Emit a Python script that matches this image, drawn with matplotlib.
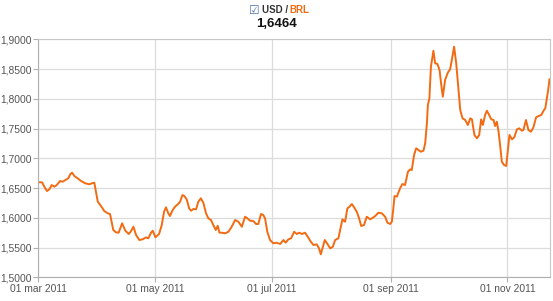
import numpy as np
import pandas as pd
import matplotlib
matplotlib.use("Agg")
import matplotlib.pyplot as plt
import matplotlib.dates as mdates
from matplotlib.ticker import FuncFormatter

plt.rcParams['font.family'] = ['Liberation Sans', 'DejaVu Sans']

# days after 01 mar 2011 and USD/BRL rate
days = [0, 2.1, 3.3, 4.7, 5.9, 7.2, 8.5, 9.8, 11.5, 12.9, 14.3, 15.8, 16.9, 17.8, 19.0,
        20.7, 22.5, 24.7, 26.8, 28.2, 29.4, 31.2, 32.9, 34.6, 36.4, 37.6, 39.3, 40.7,
        42.1, 43.9, 45.6, 47.4, 48.6, 49.8, 51.2, 52.9, 54.7, 56.4, 57.6, 59.0, 59.9,
        61.3, 63.2, 64.6, 65.8, 66.8, 68.0, 68.9, 70.1, 71.5, 73.0, 74.2, 75.4, 76.4,
        77.6, 78.9, 79.9, 81.1, 82.5, 83.7, 85.0, 86.3, 87.7, 88.9, 90.3, 91.5, 92.8,
        93.8, 94.7, 95.9, 97.7, 99.4, 101.1, 102.9, 104.6, 106.4, 108.1, 109.3, 110.7,
        112.4, 113.8, 115.0, 116.4, 117.6, 118.5, 119.7, 121.1, 122.3, 122.9, 124.6,
        126.4, 128.1, 129.3, 130.7, 132.1, 133.7, 135.1, 136.4, 137.7, 139.4, 140.8,
        142.4, 143.8, 145.5, 146.7, 147.6, 148.7, 149.7, 151.1, 152.5, 153.9, 155.1,
        156.8, 157.7, 158.9, 160.3, 161.5, 162.6, 163.8, 165.0, 166.4, 167.6, 168.7,
        170.2, 171.6, 173.4, 174.8, 176.0, 177.7, 179.5, 181.2, 182.4, 183.8, 184.7,
        185.4, 186.1, 187.3, 189.0, 190.2, 191.6, 193.1, 194.3, 195.1, 196.3, 197.4,
        198.6, 199.8, 201.2, 202.1, 203.0, 203.5, 204.3, 205.1, 206.4, 207.3, 208.5,
        209.6, 210.4, 211.3, 212.5, 213.9, 215.1, 216.0, 217.2, 218.3, 219.5, 220.4,
        221.6, 223.0, 224.4, 225.6, 226.5, 227.8, 229.1, 230.3, 231.3, 232.2, 233.4,
        234.3, 235.5, 236.6, 237.8, 238.6, 239.5, 240.4, 241.3, 242.1, 243.3, 244.4,
        245.3, 246.1, 247.4, 248.6, 250.0, 251.2, 252.6, 253.4, 254.7, 256.0, 257.3,
        258.6, 260.0, 261.3, 262.7, 263.9, 264.8, 265.6, 266.3, 267.0]
rates = [1.6597, 1.6597, 1.6523, 1.6450, 1.6479, 1.6551, 1.6523, 1.6551, 1.6618, 1.6607,
         1.6635, 1.6664, 1.6736, 1.6758, 1.6702, 1.6664, 1.6618, 1.6580, 1.6563, 1.6580,
         1.6590, 1.6271, 1.6198, 1.6114, 1.6076, 1.6064, 1.5795, 1.5756, 1.5750, 1.5907,
         1.5783, 1.5728, 1.5778, 1.5850, 1.5711, 1.5627, 1.5639, 1.5672, 1.5655, 1.5750,
         1.5783, 1.5672, 1.5728, 1.5879, 1.6102, 1.6176, 1.6076, 1.6030, 1.6119, 1.6186,
         1.6227, 1.6271, 1.6383, 1.6366, 1.6311, 1.6160, 1.6119, 1.6148, 1.6143, 1.6271,
         1.6328, 1.6254, 1.6076, 1.5992, 1.5963, 1.5879, 1.5795, 1.5867, 1.5750, 1.5750,
         1.5739, 1.5766, 1.5850, 1.5963, 1.5934, 1.5850, 1.6018, 1.5992, 1.5951, 1.5946,
         1.5896, 1.5896, 1.6064, 1.6047, 1.5992, 1.5766, 1.5627, 1.5588, 1.5571, 1.5582,
         1.5560, 1.5627, 1.5582, 1.5639, 1.5655, 1.5766, 1.5728, 1.5750, 1.5728, 1.5750,
         1.5682, 1.5598, 1.5543, 1.5554, 1.5487, 1.5386, 1.5514, 1.5627, 1.5560, 1.5487,
         1.5514, 1.5627, 1.5655, 1.5795, 1.5975, 1.5934, 1.6160, 1.6186, 1.6232, 1.6176,
         1.6102, 1.5992, 1.5862, 1.5879, 1.6018, 1.5975, 1.6002, 1.6030, 1.6086, 1.6075,
         1.6018, 1.5918, 1.5896, 1.5934, 1.6131, 1.6366, 1.6355, 1.6496, 1.6568, 1.6551,
         1.6775, 1.6815, 1.6803, 1.7055, 1.7168, 1.7140, 1.7111, 1.7128, 1.7252, 1.7588,
         1.7896, 1.8008, 1.8539, 1.8808, 1.8597, 1.8585, 1.8484, 1.8260, 1.8035, 1.8316,
         1.8439, 1.8496, 1.8652, 1.8876, 1.8597, 1.8148, 1.7812, 1.7672, 1.7644, 1.7560,
         1.7672, 1.7655, 1.7392, 1.7336, 1.7392, 1.7655, 1.7560, 1.7728, 1.7800, 1.7728,
         1.7655, 1.7644, 1.7543, 1.7615, 1.7447, 1.7195, 1.6943, 1.6887, 1.6871, 1.7139,
         1.7392, 1.7319, 1.7353, 1.7487, 1.7504, 1.7464, 1.7476, 1.7644, 1.7476, 1.7447,
         1.7521, 1.7689, 1.7711, 1.7728, 1.7800, 1.7840, 1.8008, 1.8148, 1.8328]

tick_dates = ['2011-03-01', '2011-05-01', '2011-07-01', '2011-09-01', '2011-11-01']
y_ticks = [1.50, 1.55, 1.60, 1.65, 1.70, 1.75, 1.80, 1.85, 1.90]
current = '1,6464'

start = pd.Timestamp('2011-03-01')
dates = start + pd.to_timedelta(days, unit='D')

fig = plt.figure(figsize=(5.53, 3.01), dpi=100)
ax = fig.add_axes([0.0687, 0.0787, 0.925, 0.7907])

ax.plot(dates, rates, color='#f26b12', lw=1.4, solid_joinstyle='round')

ax.set_xlim(start, start + pd.Timedelta(days=267))
ax.set_ylim(1.5, 1.9)
ax.set_xticks(pd.to_datetime(tick_dates))
ax.xaxis.set_major_formatter(FuncFormatter(
    lambda v, p: mdates.num2date(v).strftime('%d %b %Y').lower()))
ax.set_yticks(y_ticks)
ax.yaxis.set_major_formatter(FuncFormatter(lambda v, p: f'{v:.4f}'.replace('.', ',')))

ax.grid(True, color='#dcdcdc', lw=0.9)
ax.set_axisbelow(True)
for s in ax.spines.values():
    s.set_color('#c8c8c8')
ax.spines['left'].set_color('#b0b0b0')
ax.spines['bottom'].set_color('#b0b0b0')
ax.tick_params(colors='#b0b0b0', labelcolor='#555555', labelsize=7.4, length=3.5, width=0.8, pad=1)

fig.text(0.459, 0.966, '\u2611', fontsize=8.5, color='#4a6fa5', ha='center', va='center',
         family='DejaVu Sans')
fig.text(0.473, 0.966, 'USD /', fontsize=7, color='#333333', weight='bold', ha='left', va='center')
fig.text(0.524, 0.966, 'BRL', fontsize=7, color='#f26b12', weight='bold', ha='left', va='center')
fig.text(0.5, 0.92, current, fontsize=9.5, color='#111111', weight='bold', ha='center', va='center')

fig.savefig('out.png', dpi=100)
